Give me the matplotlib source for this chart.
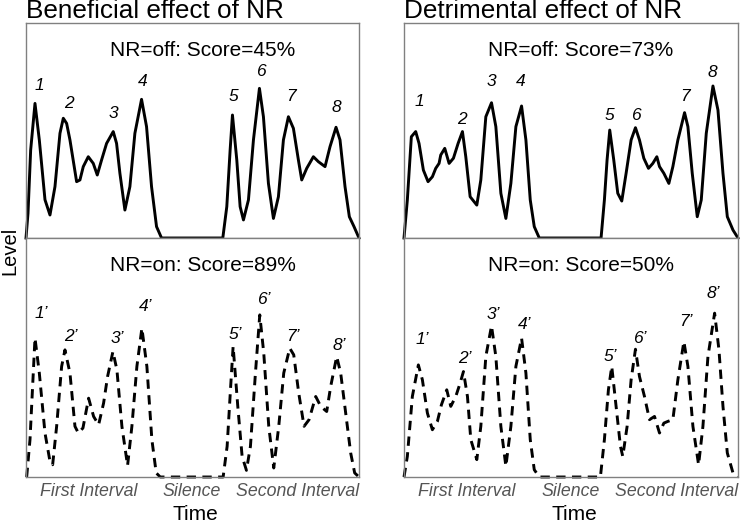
import matplotlib
matplotlib.use('Agg')
import matplotlib.pyplot as plt

plt.rcParams['font.family'] = ['Liberation Sans', 'DejaVu Sans']

# ---------------- data (time 0-100, level in arbitrary units) ----------------
# Beneficial effect, NR=off (solid)
ben_off_t = [0, 0.6, 1.4, 2.7, 4.0, 5.7, 7.2, 8.7, 10.2, 11.2, 12.2, 13.2, 15.2, 16.2, 17.2, 18.7,
             20.2, 21.4, 22.7, 24.2, 26.2, 27.2, 28.2, 29.7, 31.2, 32.7, 34.7, 36.2, 37.7, 39.2,
             40.7, 59.1, 60.3, 61.3, 62.0, 63.3, 64.3, 65.3, 66.8, 68.3, 70.1, 71.3, 72.8, 74.3,
             75.8, 77.3, 78.8, 80.3, 81.8, 82.8, 84.3, 86.3, 87.8, 89.8, 91.3, 93.1, 94.3, 95.8,
             97.1, 98.5, 100]
ben_off_lvl = [0, 11.5, 40.9, 62.6, 45.6, 17.8, 10.7, 23.9, 48.7, 55.7, 53.3, 45.6, 26.2, 27.0, 33.2,
               37.8, 34.7, 29.3, 36.3, 44.0, 49.5, 44.0, 30.1, 13.0, 23.9, 48.7, 64.5, 51.8, 23.9,
               5.3, 0, 0, 14.6, 40.9, 57.2, 36.3, 14.6, 8.4, 17.7, 45.6, 69.6, 56.4, 25.4, 9.1,
               19.2, 45.6, 56.4, 51.0, 36.3, 27.0, 32.4, 37.8, 35.5, 33.2, 42.5, 51.5, 45.6, 23.9,
               9.9, 5.3, 0]
ben_off_lab_t = [3.9, 12.9, 26.2, 35.0, 62.3, 70.6, 79.5, 93.1]
ben_off_lab_y = [70.7, 62.6, 58.0, 72.7, 65.7, 77.4, 65.7, 60.8]

# Beneficial effect, NR=on (dashed)
ben_on_t = [0.2, 1.2, 2.7, 4.0, 5.7, 7.2, 8.0, 9.2, 10.7, 11.7, 13.2, 14.7, 15.7, 17.1, 18.8, 20.3,
            21.8, 23.3, 24.5, 26.1, 27.3, 28.8, 30.5, 31.8, 33.3, 34.8, 36.3, 37.8, 39.1, 40.3,
            59.2, 60.4, 61.4, 62.2, 63.6, 64.9, 66.2, 67.4, 68.9, 70.2, 71.4, 72.9, 74.4, 75.9,
            77.4, 79.2, 80.4, 81.9, 83.5, 85.0, 87.0, 88.5, 90.3, 91.5, 93.3, 94.5, 96.0, 97.5,
            98.7, 100]
ben_on_lvl = [0, 17.4, 64.7, 48.4, 20.5, 7.3, 5.7, 23.6, 51.5, 59.2, 48.4, 23.6, 20.5, 22.8, 36.7,
              28.2, 24.3, 34.4, 46.8, 58.4, 49.9, 23.6, 5.3, 23.6, 51.5, 69.3, 51.5, 17.4, 1.9, 0,
              0, 14.3, 40.6, 60.8, 32.9, 9.6, 3.1, 14.3, 48.4, 75.5, 57.7, 23.6, 4.2, 23.6,
              48.4, 60.0, 56.9, 39.1, 23.6, 26.7, 37.5, 32.9, 30.5, 42.2, 56.1, 48.4, 29.8, 11.2,
              1.9, 0]
ben_on_lab_t = [4.7, 13.4, 27.3, 35.8, 62.9, 71.4, 80.2, 94.0]
ben_on_lab_y = [76.3, 65.4, 64.7, 79.4, 66.2, 82.5, 65.4, 61.1]

# Detrimental effect, NR=off (solid)
det_off_t = [0, 1.0, 2.2, 3.5, 4.5, 5.8, 7.2, 8.5, 9.5, 10.5, 11.0, 12.2, 13.5, 14.8, 16.2, 17.5,
             18.5, 19.8, 21.8, 23.0, 24.5, 26.2, 27.5, 29.0, 30.5, 32.0, 33.5, 35.2, 36.5, 37.8,
             39.0, 40.5, 59.0, 60.0, 60.8, 61.6, 62.8, 64.0, 65.2, 66.5, 68.0, 69.3, 70.5, 71.8,
             73.2, 74.5, 75.7, 76.5, 77.8, 79.3, 80.5, 82.0, 84.0, 85.0, 86.3, 87.8, 89.0, 90.5,
             92.5, 94.0, 95.5, 96.8, 98.5, 100]
det_off_lvl = [0, 17.7, 47.1, 49.5, 44.0, 31.6, 26.2, 28.5, 32.4, 34.7, 38.6, 41.7, 34.7, 37.1, 44.0,
               49.5, 37.8, 19.2, 15.3, 27.0, 56.4, 62.9, 51.8, 20.8, 9.1, 25.4, 51.8, 61.4, 45.6,
               17.7, 5.3, 0, 0, 17.7, 36.3, 50.2, 36.3, 20.8, 17.2, 30.1, 45.6, 51.3, 45.6, 37.1,
               32.4, 34.7, 37.8, 33.2, 30.1, 25.4, 33.2, 45.6, 58.3, 51.8, 30.1, 9.9, 17.7, 48.7,
               70.7, 59.5, 30.1, 9.9, 3.7, 0]
det_off_lab_t = [4.5, 17.2, 26.2, 35.0, 61.6, 69.3, 84.0, 92.2]
det_off_lab_y = [63.4, 54.9, 72.7, 72.7, 57.2, 57.2, 65.7, 76.9]

# Detrimental effect, NR=on (dashed)
det_on_t = [0, 1.0, 2.5, 4.3, 5.5, 7.0, 8.5, 10.0, 11.2, 12.8, 14.0, 15.5, 16.8, 17.8, 19.0, 20.0,
            21.8, 23.0, 24.5, 26.2, 27.5, 29.0, 30.5, 32.0, 33.5, 35.2, 36.5, 37.8, 39.0, 40.5,
            58.8, 60.0, 61.2, 62.2, 63.5, 64.8, 65.5, 66.8, 68.0, 69.3, 70.5, 72.0, 73.5, 75.0,
            76.5, 77.8, 79.0, 80.5, 82.0, 83.8, 85.0, 86.5, 88.2, 89.5, 91.0, 93.0, 94.3, 95.5,
            96.8, 98.5, 100]
det_on_lvl = [0, 9.6, 37.5, 52.2, 45.3, 29.8, 22.0, 25.9, 33.6, 40.6, 32.9, 37.5, 43.7, 49.1, 37.5,
              17.4, 8.1, 23.6, 56.1, 70.4, 56.1, 23.6, 5.0, 23.6, 51.5, 64.7, 48.4, 17.4, 3.4, 0,
              0, 17.4, 40.6, 51.5, 32.9, 14.3, 9.6, 23.6, 45.3, 59.5, 46.8, 37.5, 26.7, 28.2,
              20.5, 25.1, 25.9, 26.7, 45.3, 63.1, 51.5, 23.6, 5.7, 23.6, 56.1, 76.3, 59.2, 32.9,
              11.2, 1.9, 0]
det_on_lab_t = [5.5, 18.2, 26.8, 36.2, 61.8, 70.5, 84.5, 92.5]
det_on_lab_y = [63.9, 55.3, 75.5, 70.9, 56.1, 64.7, 72.4, 85.6]

peak_labels_off = ['1', '2', '3', '4', '5', '6', '7', '8']
peak_labels_on = ['1\u2019', '2\u2019', '3\u2019', '4\u2019', '5\u2019', '6\u2019', '7\u2019', '8\u2019']

titles = ['Beneficial effect of NR', 'Detrimental effect of NR']
scores_off = [45, 73]
scores_on = [89, 50]
interval_pos = [18.8, 49.8, 81.6]
interval_labels = ['First Interval', 'Silence', 'Second Interval']

# ---------------- figure ----------------
fig = plt.figure(figsize=(7.42, 5.22), dpi=100)

col_x = [26 / 742, 404 / 742]
col_w = [333 / 742, 334 / 742]
top_y, top_h = 1 - 238 / 522, 215 / 522
bot_y, bot_h = 1 - 477 / 522, 239 / 522

spine_col = '#808080'

columns = [
    (ben_off_t, ben_off_lvl, ben_off_lab_t, ben_off_lab_y,
     ben_on_t, ben_on_lvl, ben_on_lab_t, ben_on_lab_y),
    (det_off_t, det_off_lvl, det_off_lab_t, det_off_lab_y,
     det_on_t, det_on_lvl, det_on_lab_t, det_on_lab_y),
]

for c, (ot, ol, olt, oly, nt, nl, nlt, nly) in enumerate(columns):
    ax_top = fig.add_axes([col_x[c], top_y, col_w[c], top_h])
    ax_bot = fig.add_axes([col_x[c], bot_y, col_w[c], bot_h])

    ax_top.plot(ot, ol, color='black', lw=2.1, solid_joinstyle='round', clip_on=False)
    ax_bot.plot(nt, nl, color='black', lw=2.1, linestyle=(0, (3.2, 2.2)), clip_on=False)

    ax_top.set_xlim(0, 100)
    ax_top.set_ylim(0, 100)
    ax_bot.set_xlim(0, 100)
    ax_bot.set_ylim(0, 111.3)

    for lab, x, y in zip(peak_labels_off, olt, oly):
        ax_top.text(x, y, lab, ha='center', va='center', style='italic', fontsize=12.5)
    for lab, x, y in zip(peak_labels_on, nlt, nly):
        ax_bot.text(x, y, lab, ha='center', va='center', style='italic', fontsize=12.5)

    ax_top.text(0.53, 0.874, f'NR=off: Score={scores_off[c]}%', transform=ax_top.transAxes,
                ha='center', va='center', fontsize=15)
    ax_bot.text(0.53, 0.887, f'NR=on: Score={scores_on[c]}%', transform=ax_bot.transAxes,
                ha='center', va='center', fontsize=15)

    ax_top.set_title(titles[c], loc='left', fontsize=18.8, pad=2)

    for ax in (ax_top, ax_bot):
        for s in ax.spines.values():
            s.set_color(spine_col)
            s.set_linewidth(1.0)
        ax.set_yticks([])
    ax_top.set_xticks([])
    ax_bot.set_xticks(interval_pos)
    ax_bot.set_xticklabels(interval_labels, style='italic', fontsize=12.8, color='#555555')
    ax_bot.tick_params(axis='x', length=0, pad=4)

    fig.text(col_x[c] + col_w[c] * 0.51, 1 - 514 / 522, 'Time', ha='center', va='center',
             fontsize=15)

fig.text(10 / 742, 1 - 251 / 522, 'Level', rotation=90, ha='center', va='center', fontsize=14.5)

fig.savefig('out.png', dpi=100)
